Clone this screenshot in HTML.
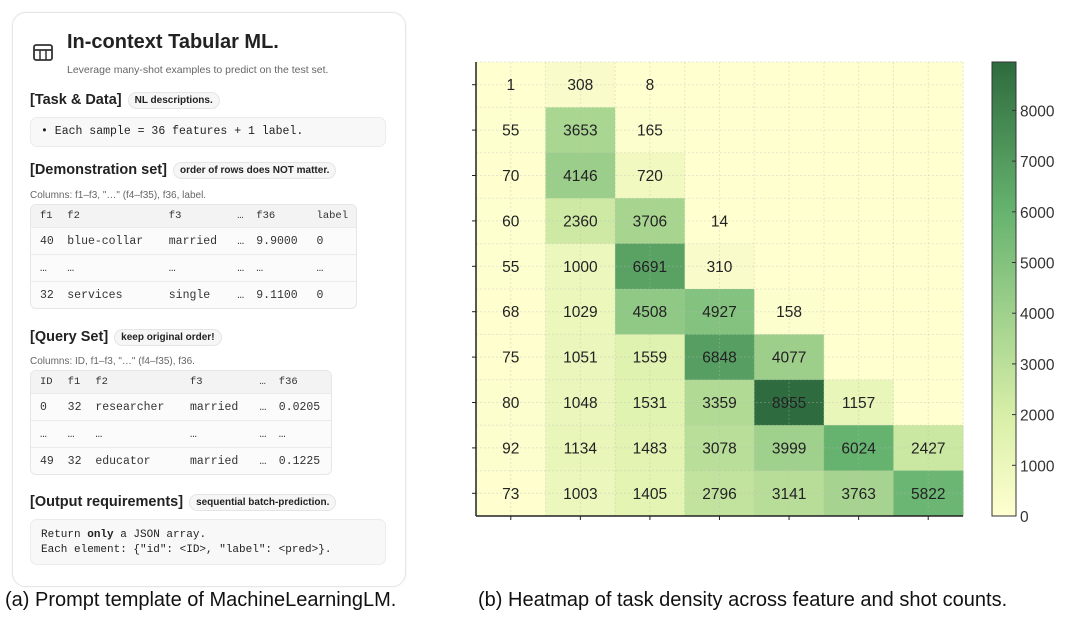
<!DOCTYPE html>
<html><head><meta charset="utf-8">
<style>
body{margin:0;width:1080px;height:617px;background:#fff;overflow:hidden;position:relative;font-family:"Liberation Sans",sans-serif;color:#222}
.card{position:absolute;left:12px;top:12px;width:392px;height:573px;border:1px solid #e6e6e6;border-radius:14px;background:#fff;box-shadow:0 0 3px rgba(0,0,0,.05)}
.abs{position:absolute}
.mono{font-family:"Liberation Mono",monospace}
.h{font-weight:bold;font-size:14.5px}
.pill{display:inline-block;border:1px solid #e5e5e5;border-radius:10px;background:#f6f6f6;font-size:10px;font-weight:bold;padding:2px 6px;margin-left:6px;vertical-align:1px}
.box{position:absolute;background:#f8f8f8;border:1px solid #ebebeb;border-radius:7px}
.note{font-size:10px;color:#666}
table{border-collapse:collapse;font-family:"Liberation Mono",monospace;font-size:11.5px;color:#333;width:100%}
td{padding:0 0 0 9px;height:26px;border-top:1px solid #ebebeb;white-space:nowrap}
tr:first-child td{height:22px;font-size:10.5px;border-top:none;background:#f3f3f3}
.tbl{position:absolute;border:1px solid #e6e6e6;border-radius:6px;overflow:hidden;background:#fbfbfb}
.cap{position:absolute;font-size:20px;color:#111;top:589px}
</style></head><body>
<div class="card"></div>
<svg class="abs" style="left:32px;top:41px" width="22" height="22"><rect x="2" y="4" width="18" height="15" rx="2" fill="none" stroke="#333" stroke-width="1.8"/><line x1="2" y1="9" x2="20" y2="9" stroke="#333" stroke-width="1.8"/><line x1="8" y1="9" x2="8" y2="19" stroke="#333" stroke-width="1.5"/><line x1="14" y1="9" x2="14" y2="19" stroke="#333" stroke-width="1.5"/></svg>
<div class="abs" style="left:67px;top:31px;font-size:20px;font-weight:bold">In-context Tabular ML.</div>
<div class="abs note" style="left:67px;top:64px;font-size:10.5px">Leverage many-shot examples to predict on the test set.</div>

<div class="abs h" style="left:30px;top:92px">[Task &amp; Data]<span class="pill">NL descriptions.</span></div>
<div class="box" style="left:30px;top:117px;width:354px;height:28px"><div class="mono" style="font-size:11.5px;position:absolute;left:10px;top:7px">• Each sample = 36 features + 1 label.</div></div>

<div class="abs h" style="left:30px;top:162px">[Demonstration set]<span class="pill">order of rows does NOT matter.</span></div>
<div class="abs note" style="left:30px;top:190px">Columns: f1–f3, "…" (f4–f35), f36, label.</div>
<div class="tbl" style="left:30px;top:204px;width:325px"><table>
<tr><td>f1</td><td>f2</td><td>f3</td><td>…</td><td>f36</td><td>label</td></tr>
<tr><td>40</td><td>blue-collar</td><td>married</td><td>…</td><td>9.9000</td><td>0</td></tr>
<tr><td>…</td><td>…</td><td>…</td><td>…</td><td>…</td><td>…</td></tr>
<tr><td>32</td><td>services</td><td>single</td><td>…</td><td>9.1100</td><td>0</td></tr></table></div>

<div class="abs h" style="left:30px;top:329px">[Query Set]<span class="pill">keep original order!</span></div>
<div class="abs note" style="left:30px;top:356px">Columns: ID, f1–f3, "…" (f4–f35), f36.</div>
<div class="tbl" style="left:30px;top:370px;width:300px"><table>
<tr><td>ID</td><td>f1</td><td>f2</td><td>f3</td><td>…</td><td>f36</td></tr>
<tr><td>0</td><td>32</td><td>researcher</td><td>married</td><td>…</td><td>0.0205</td></tr>
<tr><td>…</td><td>…</td><td>…</td><td>…</td><td>…</td><td>…</td></tr>
<tr><td>49</td><td>32</td><td>educator</td><td>married</td><td>…</td><td>0.1225</td></tr></table></div>

<div class="abs h" style="left:30px;top:494px">[Output requirements]<span class="pill">sequential batch-prediction.</span></div>
<div class="box" style="left:30px;top:519px;width:354px;height:44px"><div class="mono" style="font-size:11px;position:absolute;left:10px;top:8px;line-height:15px">Return <b>only</b> a JSON array.<br>Each element: {"id": &lt;ID&gt;, "label": &lt;pred&gt;}.</div></div>

<div class="cap" style="left:5px">(a) Prompt template of MachineLearningLM.</div>
<div class="cap" style="left:478px">(b) Heatmap of task density across feature and shot counts.</div>

<svg id="hm" class="abs" style="left:0;top:0" width="1080" height="590"></svg>
<script>
const values=[
[1,308,8,0,0,0,0],
[55,3653,165,0,0,0,0],
[70,4146,720,0,0,0,0],
[60,2360,3706,14,0,0,0],
[55,1000,6691,310,0,0,0],
[68,1029,4508,4927,158,0,0],
[75,1051,1559,6848,4077,0,0],
[80,1048,1531,3359,8955,1157,0],
[92,1134,1483,3078,3999,6024,2427],
[73,1003,1405,2796,3141,3763,5822]];
const colorTicks=[0,1000,2000,3000,4000,5000,6000,7000,8000];
const vmax=8955;
const NS='http://www.w3.org/2000/svg';
const svg=document.getElementById('hm');
const X0=476,X1=963,Y0=62,Y1=516,nC=7,nR=10;
const cw=(X1-X0)/nC,rh=(Y1-Y0)/nR;
const xCell=c=>X0+c*cw, yCell=r=>Y0+r*rh;
const stops=[[0,[255,255,208]],[0.22,[216,239,168]],[0.45,[158,208,140]],[0.67,[102,179,111]],[1,[46,107,62]]];
function col(v){let t=Math.max(0,Math.min(1,v/vmax));for(let i=1;i<stops.length;i++){if(t<=stops[i][0]){const a=stops[i-1],b=stops[i],f=(t-a[0])/(b[0]-a[0]);return 'rgb('+a[1].map((x,k)=>Math.round(x+(b[1][k]-x)*f)).join(',')+')';}}return 'rgb(46,107,62)';}
function mk(tag,at){const e=document.createElementNS(NS,tag);for(const k in at)e.setAttribute(k,at[k]);svg.appendChild(e);return e;}
values.forEach((row,r)=>row.forEach((v,c)=>{
 const e=mk('rect',{x:xCell(c),y:yCell(r),width:cw+0.5,height:rh+0.5,fill:col(v)});
 
 
}));
for(let c=0;c<=nC*2;c++){mk('line',{x1:X0+c*cw/2,x2:X0+c*cw/2,y1:Y0,y2:Y1,stroke:'#bbb','stroke-opacity':0.35,'stroke-dasharray':'2,2'});}
for(let r=0;r<=nR*2;r++){mk('line',{x1:X0,x2:X1,y1:Y0+r*rh/2,y2:Y0+r*rh/2,stroke:'#bbb','stroke-opacity':0.35,'stroke-dasharray':'2,2'});}
values.forEach((row,r)=>row.forEach((v,c)=>{
 if(v===0)return;
 const t=mk('text',{x:xCell(c)+cw/2,y:yCell(r)+rh/2+5.5,'text-anchor':'middle','font-size':15.5,fill:'#222','font-family':'Liberation Sans'});
 t.textContent=v;
 
 
}));
mk('line',{x1:X0,x2:X0,y1:Y0,y2:Y1,stroke:'#222','stroke-width':1.5});
mk('line',{x1:X0,x2:X1,y1:Y1,y2:Y1,stroke:'#222','stroke-width':1.5});
for(let r=0;r<nR;r++)mk('line',{x1:X0-4,x2:X0,y1:yCell(r)+rh/2,y2:yCell(r)+rh/2,stroke:'#222'});
for(let c=0;c<nC;c++)mk('line',{x1:xCell(c)+cw/2,x2:xCell(c)+cw/2,y1:Y1,y2:Y1+4,stroke:'#222'});
const CX=992,CW=24;
const defs=mk('defs',{});
const g=document.createElementNS(NS,'linearGradient');g.setAttribute('id','cg');g.setAttribute('x1',0);g.setAttribute('y1',1);g.setAttribute('x2',0);g.setAttribute('y2',0);defs.appendChild(g);
stops.forEach(s=>{const st=document.createElementNS(NS,'stop');st.setAttribute('offset',s[0]);st.setAttribute('stop-color','rgb('+s[1].join(',')+')');g.appendChild(st);});
const cb=mk('rect',{x:CX,y:Y0,width:CW,height:Y1-Y0,fill:'url(#cg)',stroke:'#333','stroke-width':1});


const cy=v=>Y1-(v/vmax)*(Y1-Y0);
colorTicks.forEach(v=>{
 mk('line',{x1:CX+CW-4,x2:CX+CW,y1:cy(v),y2:cy(v),stroke:'#333'});
 const t=mk('text',{x:CX+CW+4,y:cy(v)+6,'font-size':15.5,fill:'#333','font-family':'Liberation Sans'});
 t.textContent=v;
 
 
});
</script>
</body></html>
